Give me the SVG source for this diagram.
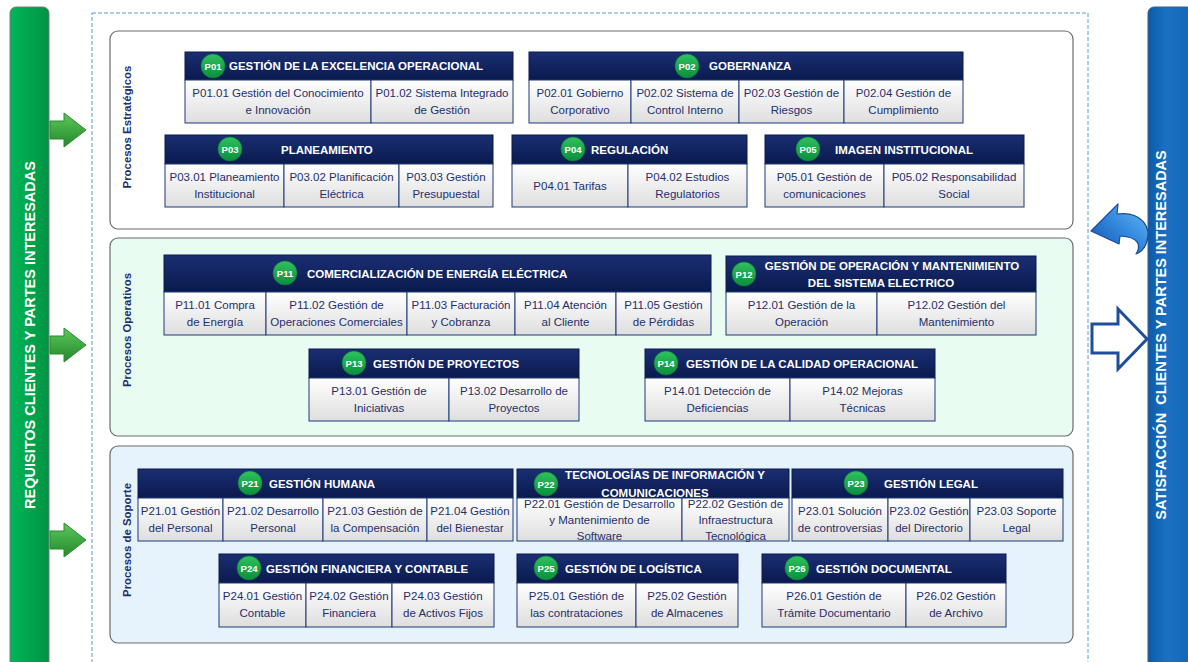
<svg xmlns="http://www.w3.org/2000/svg" xmlns:xlink="http://www.w3.org/1999/xlink" width="1188" height="662" viewBox="0 0 1188 662">
<defs>
<linearGradient id="gHdr" x1="0" y1="0" x2="0" y2="1"><stop offset="0" stop-color="#1a2e72"/><stop offset="1" stop-color="#0a1a4f"/></linearGradient>
<linearGradient id="gCell" x1="0" y1="0" x2="0" y2="1"><stop offset="0" stop-color="#ffffff"/><stop offset="1" stop-color="#dedede"/></linearGradient>
<linearGradient id="gBadge" x1="0" y1="0" x2="0" y2="1"><stop offset="0" stop-color="#2fc15e"/><stop offset="1" stop-color="#0a8f3c"/></linearGradient>
<linearGradient id="gLeft" x1="0" y1="0" x2="1" y2="0"><stop offset="0" stop-color="#00b557"/><stop offset="1" stop-color="#009445"/></linearGradient>
<linearGradient id="gRight" x1="0" y1="0" x2="1" y2="0"><stop offset="0" stop-color="#0d5aa6"/><stop offset="0.4" stop-color="#1a70c2"/><stop offset="1" stop-color="#1467b8"/></linearGradient>
<linearGradient id="gGreenArrow" x1="0" y1="0" x2="0" y2="1"><stop offset="0" stop-color="#5cc85c"/><stop offset="1" stop-color="#24882b"/></linearGradient>
<linearGradient id="gCurve" x1="1" y1="0" x2="0" y2="1"><stop offset="0" stop-color="#6bb8f5"/><stop offset="0.5" stop-color="#2f86dc"/><stop offset="1" stop-color="#1450a8"/></linearGradient>
<path id="garrow" d="M50,-9 L64,-9 L64,-17 L86,0 L64,17 L64,9 L50,9 Z"/>
<style>
.hdr{fill:url(#gHdr);stroke:#0b1a4a;stroke-width:1}
.cell{fill:url(#gCell);stroke:#1f3a7a;stroke-width:1}
.bdg{fill:url(#gBadge);stroke:#0c7a36;stroke-width:0.6}
.bt{font-family:"Liberation Sans",Arial,sans-serif;font-weight:bold;font-size:9.5px;fill:#ffffff;text-anchor:middle}
.ht{font-family:"Liberation Sans",Arial,sans-serif;font-weight:bold;font-size:11.5px;fill:#ffffff}
.htm{font-family:"Liberation Sans",Arial,sans-serif;font-weight:bold;font-size:11.5px;fill:#ffffff;text-anchor:middle}
.ct{font-family:"Liberation Sans",Arial,sans-serif;font-size:11.5px;fill:#1f2f6b;text-anchor:middle}
.sec{stroke:#6b6b6b;stroke-width:1.2}
.sl{font-family:"Liberation Sans",Arial,sans-serif;font-weight:bold;font-size:11.4px;fill:#1f2f6b;text-anchor:middle}
.bar{font-family:"Liberation Sans",Arial,sans-serif;font-weight:bold;font-size:14.5px;fill:#ffffff;text-anchor:middle;white-space:pre}
.ga{fill:url(#gGreenArrow);stroke:#2b8a30;stroke-width:1;stroke-linejoin:round}
</style>
</defs>
<rect width="1188" height="662" fill="#ffffff"/>

<g id="left-bar">
<rect x="10" y="7" width="39" height="675" rx="6" fill="url(#gLeft)" stroke="#7a7a7a" stroke-width="1"/>
<text class="bar" transform="translate(35,335) rotate(-90)">REQUISITOS CLIENTES Y PARTES INTERESADAS</text>
</g>
<g id="right-bar">
<rect x="1148" y="7" width="45" height="675" rx="6" fill="url(#gRight)" stroke="#3a5f8a" stroke-width="1"/>
<text class="bar" transform="translate(1166,335) rotate(-90)" xml:space="preserve">SATISFACCIÓN  CLIENTES Y PARTES INTERESADAS</text>
</g>

<rect id="frame" x="92" y="13" width="996" height="670" fill="none" stroke="#5b9bd5" stroke-width="1" stroke-dasharray="4,2"/>

<g id="sec-estrategicos">
<rect class="sec" x="110" y="31" width="963" height="198" rx="8" fill="#ffffff"/>
<text class="sl" transform="translate(131,127) rotate(-90)">Procesos Estratégicos</text>
</g>
<g id="sec-operativos">
<rect class="sec" x="110" y="238" width="963" height="198" rx="8" fill="#e9fcf1"/>
<text class="sl" transform="translate(131,330) rotate(-90)">Procesos Operativos</text>
</g>
<g id="sec-soporte">
<rect class="sec" x="110" y="446" width="963" height="197" rx="8" fill="#e6f2fc"/>
<text class="sl" transform="translate(131,540) rotate(-90)">Procesos de Soporte</text>
</g>

<g id="connectors">
<use xlink:href="#garrow" class="ga" transform="translate(0,130)"/>
<use xlink:href="#garrow" class="ga" transform="translate(0,345)"/>
<use xlink:href="#garrow" class="ga" transform="translate(0,540)"/>
<path d="M1091,231 L1118,204 L1117,214 C1140,211 1153,226 1146,244 C1144,249 1141,252 1136,254 C1141,246 1140,237 1120,236 L1119,244 Z" fill="url(#gCurve)" stroke="#1a4c9c" stroke-width="1.2" stroke-linejoin="round"/>
<path d="M1092,324 L1118,324 L1118,309 L1147,339 L1118,369 L1118,353 L1092,353 Z" fill="#ffffff" stroke="#1f4e9a" stroke-width="3" stroke-linejoin="miter"/>
</g>

<!-- Estrategicos -->
<g id="P01">
<rect class="hdr" x="185" y="52" width="328" height="28"/>
<circle class="bdg" cx="213" cy="66" r="12"/><text class="bt" x="213" y="69.5">P01</text>
<text class="ht" x="229" y="70">GESTIÓN DE LA EXCELENCIA OPERACIONAL</text>
<rect class="cell" x="185" y="80" width="186" height="43"/>
<rect class="cell" x="371" y="80" width="142" height="43"/>
<text class="ct" x="278" y="97">P01.01 Gestión del Conocimiento</text><text class="ct" x="278" y="114">e Innovación</text>
<text class="ct" x="442" y="97">P01.02 Sistema Integrado</text><text class="ct" x="442" y="114">de Gestión</text>
</g>
<g id="P02">
<rect class="hdr" x="529" y="52" width="434" height="28"/>
<circle class="bdg" cx="687" cy="66" r="12"/><text class="bt" x="687" y="69.5">P02</text>
<text class="ht" x="709" y="70">GOBERNANZA</text>
<rect class="cell" x="529" y="80" width="102" height="43"/>
<rect class="cell" x="631" y="80" width="108" height="43"/>
<rect class="cell" x="739" y="80" width="105" height="43"/>
<rect class="cell" x="844" y="80" width="119" height="43"/>
<text class="ct" x="580" y="97">P02.01 Gobierno</text><text class="ct" x="580" y="114">Corporativo</text>
<text class="ct" x="685" y="97">P02.02 Sistema de</text><text class="ct" x="685" y="114">Control Interno</text>
<text class="ct" x="791.5" y="97">P02.03 Gestión de</text><text class="ct" x="791.5" y="114">Riesgos</text>
<text class="ct" x="903.5" y="97">P02.04 Gestión de</text><text class="ct" x="903.5" y="114">Cumplimiento</text>
</g>
<g id="P03">
<rect class="hdr" x="165" y="135" width="328" height="29"/>
<circle class="bdg" cx="230" cy="149" r="12"/><text class="bt" x="230" y="152.5">P03</text>
<text class="ht" x="281" y="153.5">PLANEAMIENTO</text>
<rect class="cell" x="165" y="164" width="119" height="43"/>
<rect class="cell" x="284" y="164" width="115" height="43"/>
<rect class="cell" x="399" y="164" width="94" height="43"/>
<text class="ct" x="224.5" y="181">P03.01 Planeamiento</text><text class="ct" x="224.5" y="198">Institucional</text>
<text class="ct" x="341.5" y="181">P03.02 Planificación</text><text class="ct" x="341.5" y="198">Eléctrica</text>
<text class="ct" x="446" y="181">P03.03 Gestión</text><text class="ct" x="446" y="198">Presupuestal</text>
</g>
<g id="P04">
<rect class="hdr" x="512" y="135" width="235" height="29"/>
<circle class="bdg" cx="573" cy="149" r="12"/><text class="bt" x="573" y="152.5">P04</text>
<text class="ht" x="591" y="153.5">REGULACIÓN</text>
<rect class="cell" x="512" y="164" width="116" height="43"/>
<rect class="cell" x="628" y="164" width="119" height="43"/>
<text class="ct" x="570" y="189.5">P04.01 Tarifas</text>
<text class="ct" x="687.5" y="181">P04.02 Estudios</text><text class="ct" x="687.5" y="198">Regulatorios</text>
</g>
<g id="P05">
<rect class="hdr" x="765" y="135" width="259" height="29"/>
<circle class="bdg" cx="808" cy="149" r="12"/><text class="bt" x="808" y="152.5">P05</text>
<text class="ht" x="835" y="153.5">IMAGEN INSTITUCIONAL</text>
<rect class="cell" x="765" y="164" width="119" height="43"/>
<rect class="cell" x="884" y="164" width="140" height="43"/>
<text class="ct" x="824.5" y="181">P05.01 Gestión de</text><text class="ct" x="824.5" y="198">comunicaciones</text>
<text class="ct" x="954" y="181">P05.02 Responsabilidad</text><text class="ct" x="954" y="198">Social</text>
</g>

<!-- Operativos -->
<g id="P11">
<rect class="hdr" x="164" y="255" width="547" height="37"/>
<circle class="bdg" cx="285" cy="273" r="12"/><text class="bt" x="285" y="276.5">P11</text>
<text class="ht" x="307" y="277.5">COMERCIALIZACIÓN DE ENERGÍA ELÉCTRICA</text>
<rect class="cell" x="164" y="292" width="102" height="43"/>
<rect class="cell" x="266" y="292" width="141" height="43"/>
<rect class="cell" x="407" y="292" width="108" height="43"/>
<rect class="cell" x="515" y="292" width="101" height="43"/>
<rect class="cell" x="616" y="292" width="95" height="43"/>
<text class="ct" x="215" y="309">P11.01 Compra</text><text class="ct" x="215" y="326">de Energía</text>
<text class="ct" x="336.5" y="309">P11.02 Gestión de</text><text class="ct" x="336.5" y="326">Operaciones Comerciales</text>
<text class="ct" x="461" y="309">P11.03 Facturación</text><text class="ct" x="461" y="326">y Cobranza</text>
<text class="ct" x="565.5" y="309">P11.04 Atención</text><text class="ct" x="565.5" y="326">al Cliente</text>
<text class="ct" x="663.5" y="309">P11.05 Gestión</text><text class="ct" x="663.5" y="326">de Pérdidas</text>
</g>
<g id="P12">
<rect class="hdr" x="726" y="256" width="310" height="36"/>
<circle class="bdg" cx="744" cy="274" r="12"/><text class="bt" x="744" y="277.5">P12</text>
<text class="htm" x="892" y="269.5">GESTIÓN DE OPERACIÓN Y MANTENIMIENTO</text>
<text class="htm" x="881" y="286.5">DEL SISTEMA ELECTRICO</text>
<rect class="cell" x="726" y="292" width="151" height="43"/>
<rect class="cell" x="877" y="292" width="159" height="43"/>
<text class="ct" x="801.5" y="309">P12.01 Gestión de la</text><text class="ct" x="801.5" y="326">Operación</text>
<text class="ct" x="956.5" y="309">P12.02 Gestión del</text><text class="ct" x="956.5" y="326">Mantenimiento</text>
</g>
<g id="P13">
<rect class="hdr" x="309" y="349" width="270" height="29"/>
<circle class="bdg" cx="354" cy="363" r="12"/><text class="bt" x="354" y="366.5">P13</text>
<text class="ht" x="373" y="367.5">GESTIÓN DE PROYECTOS</text>
<rect class="cell" x="309" y="378" width="140" height="43"/>
<rect class="cell" x="449" y="378" width="130" height="43"/>
<text class="ct" x="379" y="395">P13.01 Gestión de</text><text class="ct" x="379" y="412">Iniciativas</text>
<text class="ct" x="514" y="395">P13.02 Desarrollo de</text><text class="ct" x="514" y="412">Proyectos</text>
</g>
<g id="P14">
<rect class="hdr" x="645" y="349" width="290" height="29"/>
<circle class="bdg" cx="666" cy="363" r="12"/><text class="bt" x="666" y="366.5">P14</text>
<text class="ht" x="686" y="367.5">GESTIÓN DE LA CALIDAD OPERACIONAL</text>
<rect class="cell" x="645" y="378" width="145" height="43"/>
<rect class="cell" x="790" y="378" width="145" height="43"/>
<text class="ct" x="717.5" y="395">P14.01 Detección de</text><text class="ct" x="717.5" y="412">Deficiencias</text>
<text class="ct" x="862.5" y="395">P14.02 Mejoras</text><text class="ct" x="862.5" y="412">Técnicas</text>
</g>

<!-- Soporte -->
<g id="P21">
<rect class="hdr" x="138" y="469" width="375" height="29"/>
<circle class="bdg" cx="250" cy="483" r="12"/><text class="bt" x="250" y="486.5">P21</text>
<text class="ht" x="269" y="487.5">GESTIÓN HUMANA</text>
<rect class="cell" x="138" y="498" width="85" height="43"/>
<rect class="cell" x="223" y="498" width="100" height="43"/>
<rect class="cell" x="323" y="498" width="104" height="43"/>
<rect class="cell" x="427" y="498" width="86" height="43"/>
<text class="ct" x="180.5" y="515">P21.01 Gestión</text><text class="ct" x="180.5" y="532">del Personal</text>
<text class="ct" x="273" y="515">P21.02 Desarrollo</text><text class="ct" x="273" y="532">Personal</text>
<text class="ct" x="375" y="515">P21.03 Gestión de</text><text class="ct" x="375" y="532">la Compensación</text>
<text class="ct" x="470" y="515">P21.04 Gestión</text><text class="ct" x="470" y="532">del Bienestar</text>
</g>
<g id="P22">
<rect class="hdr" x="517" y="469" width="272" height="29"/>
<circle class="bdg" cx="546" cy="484" r="12"/><text class="bt" x="546" y="487.5">P22</text>
<rect class="cell" x="517" y="498" width="165" height="43"/>
<rect class="cell" x="682" y="498" width="107" height="43"/>
<text class="htm" x="665" y="479">TECNOLOGÍAS DE INFORMACIÓN Y</text>
<text class="htm" x="655" y="496.5">COMUNICACIONES</text>
<text class="ct" x="599.5" y="508">P22.01 Gestión de Desarrollo</text><text class="ct" x="599.5" y="524">y Mantenimiento de</text><text class="ct" x="599.5" y="540">Software</text>
<text class="ct" x="735.5" y="508">P22.02 Gestión de</text><text class="ct" x="735.5" y="524">Infraestructura</text><text class="ct" x="735.5" y="540">Tecnológica</text>
</g>
<g id="P23">
<rect class="hdr" x="792" y="469" width="271" height="29"/>
<circle class="bdg" cx="856" cy="483" r="12"/><text class="bt" x="856" y="486.5">P23</text>
<text class="ht" x="884" y="487.5">GESTIÓN LEGAL</text>
<rect class="cell" x="792" y="498" width="96" height="43"/>
<rect class="cell" x="888" y="498" width="82" height="43"/>
<rect class="cell" x="970" y="498" width="93" height="43"/>
<text class="ct" x="840" y="515">P23.01 Solución</text><text class="ct" x="840" y="532">de controversias</text>
<text class="ct" x="929" y="515">P23.02 Gestión</text><text class="ct" x="929" y="532">del Directorio</text>
<text class="ct" x="1016.5" y="515">P23.03 Soporte</text><text class="ct" x="1016.5" y="532">Legal</text>
</g>
<g id="P24">
<rect class="hdr" x="219" y="554" width="275" height="29"/>
<circle class="bdg" cx="249" cy="568" r="12"/><text class="bt" x="249" y="571.5">P24</text>
<text class="ht" x="266" y="572.5">GESTIÓN FINANCIERA Y CONTABLE</text>
<rect class="cell" x="219" y="583" width="87" height="44"/>
<rect class="cell" x="306" y="583" width="86" height="44"/>
<rect class="cell" x="392" y="583" width="102" height="44"/>
<text class="ct" x="262.5" y="600">P24.01 Gestión</text><text class="ct" x="262.5" y="617">Contable</text>
<text class="ct" x="349" y="600">P24.02 Gestión</text><text class="ct" x="349" y="617">Financiera</text>
<text class="ct" x="443" y="600">P24.03 Gestión</text><text class="ct" x="443" y="617">de Activos Fijos</text>
</g>
<g id="P25">
<rect class="hdr" x="517" y="554" width="221" height="29"/>
<circle class="bdg" cx="546" cy="568" r="12"/><text class="bt" x="546" y="571.5">P25</text>
<text class="ht" x="565" y="572.5">GESTIÓN DE LOGÍSTICA</text>
<rect class="cell" x="517" y="583" width="119" height="44"/>
<rect class="cell" x="636" y="583" width="102" height="44"/>
<text class="ct" x="576.5" y="600">P25.01 Gestión de</text><text class="ct" x="576.5" y="617">las contrataciones</text>
<text class="ct" x="687" y="600">P25.02 Gestión</text><text class="ct" x="687" y="617">de Almacenes</text>
</g>
<g id="P26">
<rect class="hdr" x="762" y="554" width="244" height="29"/>
<circle class="bdg" cx="797" cy="568" r="12"/><text class="bt" x="797" y="571.5">P26</text>
<text class="ht" x="816" y="572.5">GESTIÓN DOCUMENTAL</text>
<rect class="cell" x="762" y="583" width="144" height="44"/>
<rect class="cell" x="906" y="583" width="100" height="44"/>
<text class="ct" x="834" y="600">P26.01 Gestión de</text><text class="ct" x="834" y="617">Trámite Documentario</text>
<text class="ct" x="956" y="600">P26.02 Gestión</text><text class="ct" x="956" y="617">de Archivo</text>
</g>
</svg>
